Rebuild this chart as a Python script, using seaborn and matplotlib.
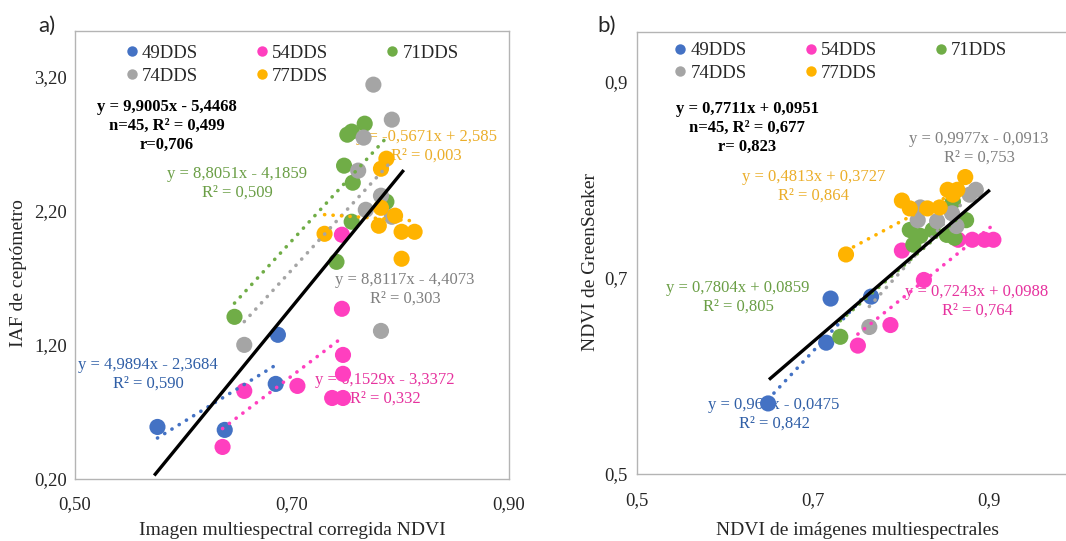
import numpy as np
import pandas as pd
import seaborn as sns
import matplotlib.pyplot as plt
from matplotlib.lines import Line2D
from matplotlib.ticker import FixedLocator

# ---- data, panel a (IAF vs NDVI imagen) ----
groups = ['49DDS', '54DDS', '71DDS', '74DDS', '77DDS']
colors = ['#4472C4', '#FF3FBF', '#70AD47', '#A5A5A5', '#FFB300']
text_colors = ['#2F5EA6', '#E6329E', '#6A9E45', '#808080', '#EBAE2A']

a_x_49 = [0.576, 0.638, 0.687, 0.685]
a_y_49 = [0.588, 0.566, 1.275, 0.909]
a_x_54 = [0.636, 0.656, 0.705, 0.747, 0.747, 0.737, 0.747, 0.746, 0.746]
a_y_54 = [0.439, 0.857, 0.894, 1.125, 0.984, 0.804, 0.804, 1.469, 2.021]
a_x_71 = [0.767, 0.751, 0.755, 0.748, 0.756, 0.755, 0.741, 0.787, 0.647]
a_y_71 = [2.849, 2.767, 2.790, 2.536, 2.409, 2.118, 1.819, 2.267, 1.409]
a_x_74 = [0.775, 0.792, 0.766, 0.761, 0.782, 0.768, 0.792, 0.782, 0.656]
a_y_74 = [3.140, 2.879, 2.745, 2.499, 2.312, 2.207, 2.155, 1.304, 1.200]
a_x_77 = [0.787, 0.782, 0.782, 0.795, 0.780, 0.730, 0.801, 0.813, 0.801]
a_y_77 = [2.588, 2.513, 2.222, 2.163, 2.088, 2.028, 2.043, 2.043, 1.842]

a_slope = [4.9894, 6.1529, 8.8051, 8.8117, -0.5671]
a_icpt = [-2.3684, -3.3372, -4.1859, -4.4073, 2.585]
a_all = (9.9005, -5.4468)
a_all_x = [0.573, 0.803]

a_eq = ['y = 4,9894x - 2,3684\nR² = 0,590', 'y = 6,1529x - 3,3372\nR² = 0,332',
        'y = 8,8051x - 4,1859\nR² = 0,509', 'y = 8,8117x - 4,4073\nR² = 0,303',
        'y = -0,5671x + 2,585\nR² = 0,003']
a_eq_all = 'y = 9,9005x - 5,4468\nn=45, R² = 0,499\nr=0,706'

# ---- data, panel b (NDVI GreenSeaker vs NDVI imagenes) ----
b_x_49 = [0.649, 0.720, 0.766, 0.715]
b_y_49 = [0.572, 0.679, 0.681, 0.634]
b_x_54 = [0.751, 0.788, 0.826, 0.801, 0.865, 0.881, 0.895, 0.905]
b_y_54 = [0.631, 0.652, 0.698, 0.728, 0.739, 0.739, 0.739, 0.739]
b_x_71 = [0.731, 0.810, 0.822, 0.814, 0.836, 0.852, 0.859, 0.874, 0.861]
b_y_71 = [0.640, 0.749, 0.743, 0.734, 0.749, 0.744, 0.778, 0.759, 0.741]
b_x_74 = [0.764, 0.822, 0.819, 0.841, 0.858, 0.863, 0.878, 0.885]
b_y_74 = [0.650, 0.772, 0.759, 0.758, 0.766, 0.753, 0.785, 0.790]
b_x_77 = [0.7375, 0.801, 0.810, 0.830, 0.844, 0.853, 0.864, 0.873, 0.859]
b_y_77 = [0.724, 0.779, 0.771, 0.771, 0.772, 0.790, 0.790, 0.803, 0.785]

b_slope = [0.961, 0.7243, 0.7804, 0.9977, 0.4813]
b_icpt = [-0.0475, 0.0988, 0.0859, -0.0913, 0.3727]
b_all = (0.7711, 0.0951)
b_all_x = [0.650, 0.901]

b_eq = ['y = 0,961x - 0,0475\nR² = 0,842', 'y = 0,7243x + 0,0988\nR² = 0,764',
        'y = 0,7804x + 0,0859\nR² = 0,805', 'y = 0,9977x - 0,0913\nR² = 0,753',
        'y = 0,4813x + 0,3727\nR² = 0,864']
b_eq_all = 'y = 0,7711x + 0,0951\nn=45, R² = 0,677\nr= 0,823'

a_xticks = [0.50, 0.70, 0.90]
a_xticklabels = ['0,50', '0,70', '0,90']
a_yticks = [0.20, 1.20, 2.20, 3.20]
a_yticklabels = ['0,20', '1,20', '2,20', '3,20']
b_xticks = [0.5, 0.7, 0.9]
b_xticklabels = ['0,5', '0,7', '0,9']
b_yticks = [0.5, 0.7, 0.9]
b_yticklabels = ['0,5', '0,7', '0,9']


def make_df(xs, ys):
    rows = []
    for g, x, y in zip(groups, xs, ys):
        for xi, yi in zip(x, y):
            rows.append((g, xi, yi))
    return pd.DataFrame(rows, columns=['group', 'x', 'y'])


df_a = make_df([a_x_49, a_x_54, a_x_71, a_x_74, a_x_77], [a_y_49, a_y_54, a_y_71, a_y_74, a_y_77])
df_b = make_df([b_x_49, b_x_54, b_x_71, b_x_74, b_x_77], [b_y_49, b_y_54, b_y_71, b_y_74, b_y_77])

sns.set_style('white')
plt.rcParams['font.family'] = ['Liberation Serif', 'DejaVu Serif']
FS = 13.5      # ticks, legend
FS_LAB = 14    # axis labels
FS_EQ = 12     # trendline equations

fig = plt.figure(figsize=(10.66, 5.41), dpi=100)
ax_a = fig.add_axes([75 / 1066, 62 / 541, 434 / 1066, 448 / 541])
ax_b = fig.add_axes([637 / 1066, 67 / 541, 440 / 1066, 442 / 541])

palette = dict(zip(groups, colors))


def draw_panel(ax, df, slopes, icpts, all_fit, all_x, eqs, eq_all, eq_pos, eq_all_pos):
    sns.scatterplot(data=df, x='x', y='y', hue='group', palette=palette, s=135,
                    edgecolor='none', linewidth=0, legend=False, ax=ax, zorder=2)
    for g, c, m, b in zip(groups, colors, slopes, icpts):
        sub = df[df['group'] == g]
        xx = np.array([sub['x'].min(), sub['x'].max()])
        ax.plot(xx, m * xx + b, color=c, lw=2.6, linestyle=(0, (0.05, 2.3)),
                dash_capstyle='round', zorder=3)
    xx = np.array(all_x)
    ax.plot(xx, all_fit[0] * xx + all_fit[1], color='black', lw=2.4, zorder=4,
            solid_capstyle='butt')
    for txt, tc, (px, py) in zip(eqs, text_colors, eq_pos):
        ax.text(px / 1066, 1 - py / 541, txt, transform=fig.transFigure, ha='center',
                va='center', color=tc, fontsize=FS_EQ, linespacing=1.2, zorder=1)
    ax.text(eq_all_pos[0] / 1066, 1 - eq_all_pos[1] / 541, eq_all, transform=fig.transFigure,
            ha='center', va='center', color='black', fontsize=FS_EQ, fontweight='bold',
            linespacing=1.25, zorder=1)
    for s in ax.spines.values():
        s.set_color('#b4b4b4')
        s.set_linewidth(1.0)
    ax.tick_params(length=0, labelsize=FS)


draw_panel(ax_a, df_a, a_slope, a_icpt, a_all, a_all_x, a_eq, a_eq_all,
           [(148, 374), (385, 389), (237, 183), (405, 289), (426, 146)], (167, 126))
draw_panel(ax_b, df_b, b_slope, b_icpt, b_all, b_all_x, b_eq, b_eq_all,
           [(774, 414), (977, 301), (738, 297), (979, 148), (814, 186)], (747, 128))

ax_a.set_xlim(0.50, 0.90)
ax_a.set_ylim(0.20, 3.54)
ax_a.xaxis.set_major_locator(FixedLocator(a_xticks))
ax_a.set_xticklabels(a_xticklabels)
ax_a.yaxis.set_major_locator(FixedLocator(a_yticks))
ax_a.set_yticklabels(a_yticklabels)
ax_a.tick_params(axis='x', pad=12)
ax_a.tick_params(axis='y', pad=6)
ax_a.set_xlabel('Imagen multiespectral corregida NDVI', fontsize=FS_LAB)
ax_a.set_ylabel('IAF de ceptómetro', fontsize=FS_LAB)
ax_a.xaxis.set_label_coords(0.5, -0.096)
ax_a.yaxis.set_label_coords(-0.11, 0.46)

ax_b.set_xlim(0.5, 1.0)
ax_b.set_ylim(0.5, 0.951)
ax_b.xaxis.set_major_locator(FixedLocator(b_xticks))
ax_b.set_xticklabels(b_xticklabels)
ax_b.yaxis.set_major_locator(FixedLocator(b_yticks))
ax_b.set_yticklabels(b_yticklabels)
ax_b.tick_params(axis='x', pad=13)
ax_b.tick_params(axis='y', pad=7)
ax_b.set_xlabel('NDVI de imágenes multiespectrales', fontsize=FS_LAB)
ax_b.set_ylabel('NDVI de GreenSeaker', fontsize=FS_LAB)
ax_b.xaxis.set_label_coords(0.5, -0.109)
ax_b.yaxis.set_label_coords(-0.086, 0.48)

# legends, row-wise order (3 columns)
order = [0, 3, 1, 4, 2]
handles = [Line2D([], [], marker='o', linestyle='none', markersize=7.5,
                  markerfacecolor=colors[i], markeredgecolor='none') for i in order]
labels = [groups[i] for i in order]
for ax, anchor in [(ax_a, (0.1175, 0.969)), (ax_b, (0.086, 0.977))]:
    ax.legend(handles, labels, ncol=3, loc='upper left', bbox_to_anchor=anchor,
              frameon=False, fontsize=FS, handlelength=0.6, handletextpad=0.25,
              columnspacing=3.1, labelspacing=0.3, borderpad=0, borderaxespad=0)

fig.text(38 / 1066, 1 - 26 / 541, 'a)', fontsize=16, family=['Lato', 'DejaVu Sans'],
         ha='left', va='center')
fig.text(597 / 1066, 1 - 26 / 541, 'b)', fontsize=16, family=['Lato', 'DejaVu Sans'],
         ha='left', va='center')

fig.savefig('out.png', dpi=100)
